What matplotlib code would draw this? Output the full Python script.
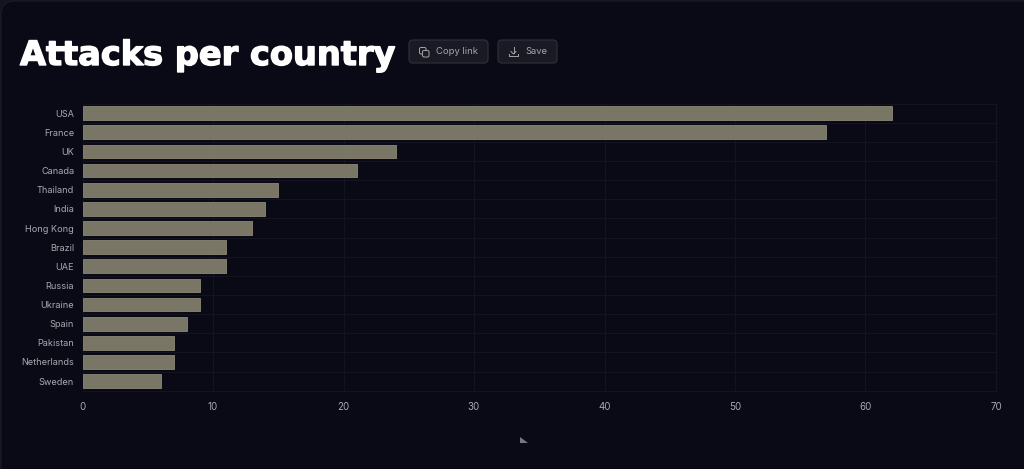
import matplotlib
matplotlib.use("Agg")
import matplotlib.pyplot as plt
import matplotlib.patheffects as pe
from matplotlib.patches import FancyBboxPatch, Polygon

countries = ["USA", "France", "UK", "Canada", "Thailand", "India", "Hong Kong", "Brazil",
             "UAE", "Russia", "Ukraine", "Spain", "Pakistan", "Netherlands", "Sweden"]
attacks = [62, 57, 24, 21, 15, 14, 13, 11, 11, 9, 9, 8, 7, 7, 6]
x_ticks = [0, 10, 20, 30, 40, 50, 60, 70]

W, H = 1024, 469
PAGE = "#14141e"
CARD = "#0a0a17"
GRID = "#14141f"
BAR = "#7a7665"
BAR_EDGE = "#8b8878"
LABEL = "#a8a8ad"

plt.rcParams["font.family"] = ["Inter", "DejaVu Sans"]

fig = plt.figure(figsize=(W / 100, H / 100), dpi=100, facecolor=PAGE)

# full-figure layer in pixel units for the card, title and buttons
bg = fig.add_axes([0, 0, 1, 1], zorder=0)
bg.set_xlim(0, W)
bg.set_ylim(H, 0)
bg.axis("off")
bg.add_patch(FancyBboxPatch((14, 14), W - 28 + 11, H - 28 + 13, boxstyle="round,pad=13,rounding_size=14",
                            fc=CARD, ec="#191925", lw=1))

bg.text(20, 65, "Attacks per country", family="DejaVu Sans", weight="bold", fontsize=24.2,
        color="white", va="baseline", ha="left",
        path_effects=[pe.withStroke(linewidth=1.0, foreground="white")])


def button(x, w, label, text_x):
    bg.add_patch(FancyBboxPatch((x + 4, 44), w - 8, 15, boxstyle="round,pad=4,rounding_size=4",
                                fc="#1a1a24", ec="#2e2e38", lw=0.9))
    bg.text(text_x, 51.5, label, fontsize=6.8, color="#a5a5a8", va="center", ha="left")


button(409, 79, "Copy link", 436)
button(498, 59, "Save", 525)


def rect(x, y, w, h, fc):
    bg.add_patch(FancyBboxPatch((x, y), w, h, boxstyle="round,pad=0,rounding_size=1.5",
                                fc=fc, ec="#a5a5a8", lw=0.7))


# copy icon
rect(419.5, 47.5, 6.5, 6.5, "none")
rect(422.5, 50.5, 6.5, 6.5, "#1a1a24")
# download icon
bg.plot([513.5, 513.5], [47, 53.5], color="#a5a5a8", lw=0.7)
bg.plot([511, 513.5, 516], [51.5, 54, 51.5], color="#a5a5a8", lw=0.7)
bg.plot([509, 509, 518, 518], [54, 56.5, 56.5, 54], color="#a5a5a8", lw=0.7)

# small marker under the plot
bg.add_patch(Polygon([(520, 437), (520, 443), (528, 443)], fc="#77777f", ec="none"))

ax = fig.add_axes([82.5 / W, 1 - 390.7 / H, (996 - 82.5) / W, (390.7 - 103.6) / H], zorder=1)
ax.set_facecolor("none")
positions = list(range(len(countries)))
ax.barh(positions, attacks, height=0.72, color=BAR, edgecolor=BAR_EDGE, linewidth=0.6, zorder=3)

ax.set_xlim(0, 70)
ax.set_ylim(len(countries) - 0.5, -0.5)
ax.set_xticks(x_ticks)
ax.set_yticks(positions)
ax.set_yticklabels(countries)
ax.set_yticks([p - 0.5 for p in positions] + [len(countries) - 0.5], minor=True)

ax.grid(axis="x", which="major", color=GRID, lw=0.8, zorder=0)
ax.grid(axis="y", which="minor", color=GRID, lw=0.8, zorder=0)
ax.tick_params(axis="both", which="both", length=0)
ax.tick_params(axis="y", which="major", pad=6, labelsize=6.6, labelcolor=LABEL)
ax.tick_params(axis="x", which="major", pad=8, labelsize=7, labelcolor=LABEL)
for side in ax.spines.values():
    side.set_color(GRID)
    side.set_linewidth(0.8)

fig.savefig("out.png", dpi=100, facecolor=PAGE)
